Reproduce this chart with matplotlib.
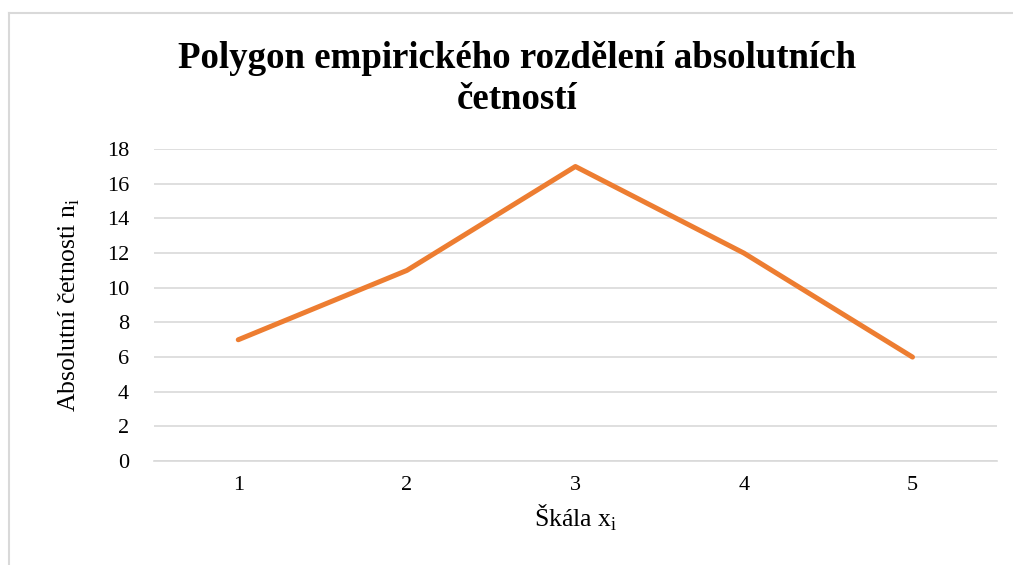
import matplotlib.pyplot as plt
from matplotlib.lines import Line2D

# data
categories = [1, 2, 3, 4, 5]
counts = [7, 11, 17, 12, 6]
y_ticks = [0, 2, 4, 6, 8, 10, 12, 14, 16, 18]

plt.rcParams['font.family'] = ['Liberation Serif', 'DejaVu Serif']
plt.rcParams['mathtext.fontset'] = 'custom'
plt.rcParams['mathtext.rm'] = 'Liberation Serif'

fig = plt.figure(figsize=(10.13, 5.65), dpi=100)
ax = fig.add_axes([0.152, 0.184, 0.832, 0.552])

# chart border (cut off at right and bottom like the original)
fig.add_artist(Line2D([9 / 1013, 9 / 1013], [0, 1 - 13 / 565], color='#d9d9d9', lw=1.5))
fig.add_artist(Line2D([9 / 1013, 1], [1 - 13 / 565, 1 - 13 / 565], color='#d9d9d9', lw=1.5))

ax.plot(categories, counts, color='#ed7d31', lw=3.6, solid_capstyle='round',
        solid_joinstyle='round', zorder=3)

ax.set_xlim(0.5, 5.5)
ax.set_ylim(0, 18)
ax.set_yticks(y_ticks)
ax.set_xticks(categories)
ax.grid(axis='y', color='#d9d9d9', lw=1.2)
ax.set_axisbelow(True)
for s in ['top', 'right', 'left']:
    ax.spines[s].set_visible(False)
ax.spines['bottom'].set_color('#d9d9d9')
ax.spines['bottom'].set_linewidth(1.2)
ax.tick_params(length=0, labelsize=16, colors='#000000')
ax.tick_params(axis='y', pad=18)
ax.tick_params(axis='x', pad=11)

ax.set_xlabel(r'Škála x$_\mathregular{i}$', fontsize=18.5, labelpad=5)
ax.set_ylabel(r'Absolutní četnosti n$_\mathregular{i}$', fontsize=18.5, labelpad=18)

fig.text(517 / 1013, 1 - 79 / 565, 'Polygon empirického rozdělení absolutních\nčetností',
         ha='center', va='center', fontsize=26.6, fontweight='bold', linespacing=1.25)

fig.savefig('out.png', dpi=100)
